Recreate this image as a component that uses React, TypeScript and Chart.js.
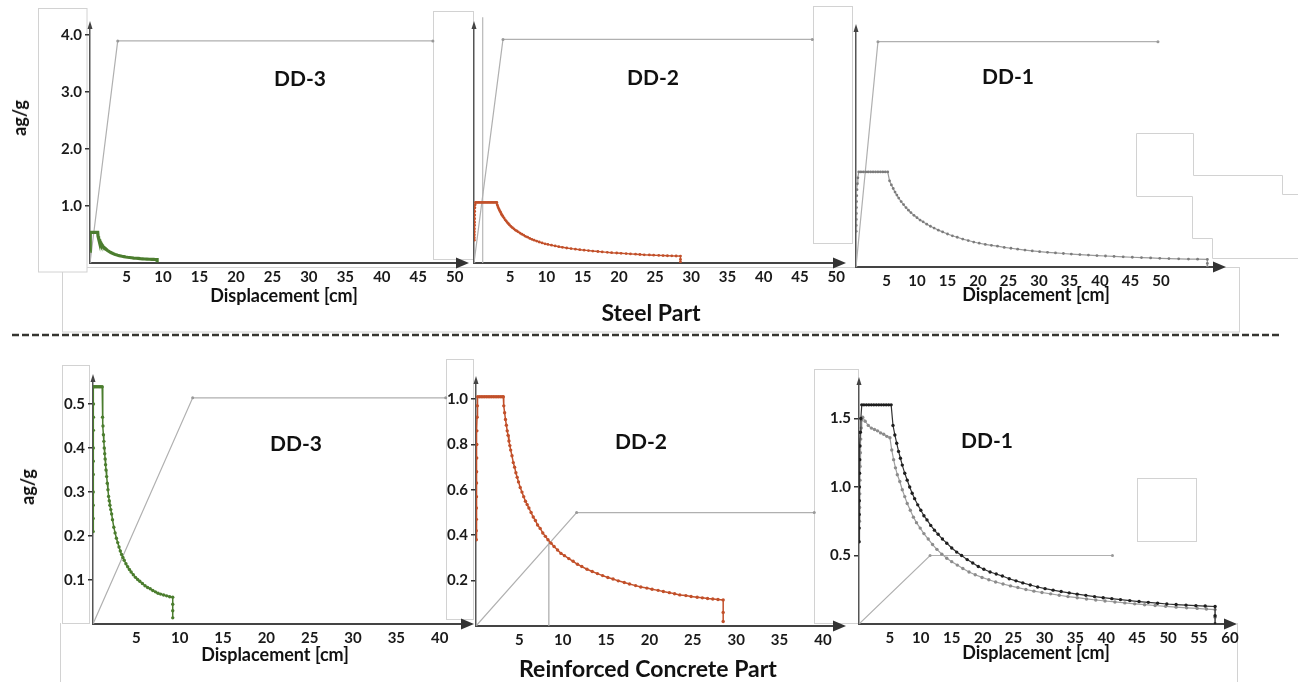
import React, { useEffect, useRef } from "react";
import { Chart, registerables } from "chart.js";
Chart.register(...registerables);

// ---------------- DATA ----------------
// DD-3 demand spectrum (Sd [cm], Sa [g])
const DD3_X = [0.02, 0.02, 0.02, 0.03, 0.03, 0.03, 0.04, 0.04, 0.05, 0.05, 0.06,
  0.15, 0.3, 0.45, 0.6, 0.75, 0.9, 1.06,
  1.1, 1.15, 1.2, 1.25, 1.3, 1.35, 1.4, 1.45, 1.5, 1.575,
  1.65, 1.725, 1.8, 1.875, 1.95, 2.05, 2.15, 2.25, 2.4, 2.55,
  2.7, 2.85, 3.0, 3.15, 3.3, 3.45, 3.6, 3.8, 4.0, 4.2,
  4.4, 4.65, 4.9, 5.15, 5.4, 5.7, 6.0, 6.3, 6.6, 6.9,
  7.2, 7.5, 7.8, 8.15, 8.5, 8.85, 9.2, 9.2, 9.2, 9.2];
const DD3_Y = [0.21, 0.24, 0.27, 0.30, 0.34, 0.37, 0.40, 0.44, 0.47, 0.50, 0.539,
  0.539, 0.539, 0.539, 0.539, 0.539, 0.539, 0.539,
  0.47, 0.45, 0.43, 0.415, 0.40, 0.387, 0.375, 0.362, 0.35, 0.335,
  0.32, 0.305, 0.29, 0.28, 0.27, 0.26, 0.25, 0.237, 0.22, 0.207,
  0.195, 0.185, 0.175, 0.166, 0.158, 0.151, 0.145, 0.137, 0.13, 0.124,
  0.118, 0.112, 0.106, 0.101, 0.097, 0.092, 0.087, 0.083, 0.08, 0.076,
  0.073, 0.07, 0.068, 0.066, 0.064, 0.062, 0.061, 0.045, 0.03, 0.014];

// DD-2 demand spectrum
const DD2_X = [0.03, 0.03, 0.04, 0.04, 0.05, 0.06, 0.07, 0.08, 0.09, 0.1, 0.12, 0.15, 0.2,
  0.4, 0.6, 0.8, 1.0, 1.2, 1.4, 1.6, 1.8, 2.0, 2.2, 2.4, 2.6, 2.8, 3.0, 3.15,
  3.2, 3.3, 3.4, 3.5, 3.6, 3.7, 3.8, 3.9, 4.0, 4.15,
  4.3, 4.45, 4.6, 4.75, 4.9, 5.1, 5.3, 5.5, 5.7, 5.9,
  6.1, 6.35, 6.6, 6.85, 7.1, 7.4, 7.7, 8.0, 8.3, 8.65,
  9.0, 9.4, 9.8, 10.2, 10.7, 11.2, 11.7, 12.2, 12.8, 13.4,
  14.0, 14.6, 15.2, 15.8, 16.4, 17.1, 17.7, 18.4, 19.0, 19.7,
  20.3, 21, 21.6, 22.3, 22.9, 23.5, 24.2, 24.8, 25.5, 26.1,
  26.7, 27.3, 27.9, 28.5, 28.5, 28.5];
const DD2_Y = [0.38, 0.42, 0.47, 0.52, 0.57, 0.63, 0.68, 0.74, 0.80, 0.86, 0.92, 0.97, 1.01,
  1.01, 1.01, 1.01, 1.01, 1.01, 1.01, 1.01, 1.01, 1.01, 1.01, 1.01, 1.01, 1.01, 1.01, 1.01,
  0.97, 0.94, 0.91, 0.885, 0.86, 0.84, 0.815, 0.795, 0.775, 0.75,
  0.72, 0.70, 0.675, 0.655, 0.635, 0.61, 0.59, 0.57, 0.55, 0.535,
  0.52, 0.50, 0.48, 0.465, 0.445, 0.43, 0.41, 0.395, 0.38, 0.365,
  0.35, 0.335, 0.32, 0.31, 0.297, 0.285, 0.272, 0.262, 0.25, 0.24,
  0.231, 0.222, 0.214, 0.207, 0.199, 0.192, 0.185, 0.178, 0.172, 0.167,
  0.162, 0.157, 0.152, 0.147, 0.142, 0.137, 0.134, 0.13, 0.127, 0.124,
  0.121, 0.119, 0.117, 0.115, 0.06, 0.02];

// DD-1 demand spectrum (black)
const DD1_X = [0.02, 0.03, 0.04, 0.05, 0.07, 0.09, 0.12, 0.16, 0.22, 0.3, 0.45,
  0.8, 1.2, 1.6, 2.0, 2.4, 2.8, 3.2, 3.6, 4.0, 4.4, 4.8, 5.2,
  5.5, 5.8, 6.1, 6.4, 6.7, 7.0, 7.4, 7.8, 8.2, 8.6,
  9.0, 9.5, 10.0, 10.5, 11.0, 11.6, 12.2, 12.8, 13.5, 14.2,
  15.0, 15.8, 16.6, 17.5, 18.4, 19.3, 20.2, 21.2, 22.2, 23.2,
  24.3, 25.4, 26.5, 27.7, 28.9, 30.1, 31.4, 32.7, 34.0, 35.3,
  36.7, 38.1, 39.5, 40.9, 42.3, 43.8, 45.3, 46.8, 48.3, 49.8,
  51.3, 52.9, 54.5, 56.0, 57.6, 57.6, 57.6];
const DD1_Y = [0.6, 0.7, 0.8, 0.9, 1.0, 1.1, 1.2, 1.3, 1.4, 1.5, 1.6,
  1.6, 1.6, 1.6, 1.6, 1.6, 1.6, 1.6, 1.6, 1.6, 1.6, 1.6, 1.6,
  1.45, 1.38, 1.32, 1.26, 1.21, 1.16, 1.10, 1.05, 1.0, 0.955,
  0.915, 0.87, 0.83, 0.79, 0.76, 0.72, 0.685, 0.655, 0.62, 0.59,
  0.555, 0.525, 0.50, 0.47, 0.445, 0.42, 0.40, 0.38, 0.365, 0.35,
  0.33, 0.315, 0.30, 0.285, 0.27, 0.258, 0.247, 0.237, 0.227, 0.218,
  0.209, 0.2, 0.192, 0.185, 0.178, 0.171, 0.164, 0.158, 0.152, 0.146,
  0.142, 0.138, 0.134, 0.131, 0.128, 0.06, 0.0];

// DD-1 demand spectrum, reinforced concrete (grey)
const DD1_RC_X = [0.08, 0.1, 0.12, 0.15, 0.18, 0.22, 0.28, 0.35, 0.45,
  0.6, 1.0, 1.5, 2.0, 2.5, 3.0, 3.5, 4.0, 4.5, 5.0,
  5.3, 5.6, 5.9, 6.2, 6.6, 7.0, 7.4, 7.8, 8.3, 8.8,
  9.3, 9.9, 10.5, 11.2, 11.9, 12.6, 13.4, 14.2, 15.0, 15.9,
  16.8, 17.8, 18.8, 19.9, 21.0, 22.1, 23.3, 24.5, 25.7, 27.0,
  28.3, 29.6, 31.0, 32.4, 33.8, 35.3, 36.8, 38.3, 39.8, 41.4,
  43.0, 44.6, 46.2, 47.9, 49.6, 51.3, 53.0, 54.7, 56.2, 57.6,
  57.6, 57.6];
const DD1_RC_Y = [0.75, 0.85, 0.95, 1.05, 1.15, 1.25, 1.35, 1.43, 1.49,
  1.51, 1.48, 1.45, 1.43, 1.42, 1.41, 1.395, 1.385, 1.37, 1.36,
  1.27, 1.2, 1.14, 1.09, 1.04, 0.98, 0.93, 0.88, 0.83, 0.78,
  0.74, 0.70, 0.66, 0.62, 0.58, 0.545, 0.51, 0.48, 0.455, 0.43,
  0.405, 0.38, 0.36, 0.34, 0.323, 0.307, 0.292, 0.278, 0.266, 0.252,
  0.24, 0.23, 0.22, 0.21, 0.2, 0.192, 0.183, 0.175, 0.168, 0.161,
  0.154, 0.147, 0.141, 0.135, 0.129, 0.123, 0.118, 0.114, 0.109, 0.105,
  0.05, 0.0];

// Capacity curves
const CAP_STEEL_DD3_X = [0, 3.8, 47];
const CAP_STEEL_DD3_Y = [0, 3.9, 3.9];
const CAP_STEEL_DD2_X = [0, 4.0, 46.7];
const CAP_STEEL_DD2_Y = [0, 3.73, 3.73];
const GUIDE_STEEL_DD2_X = [1.2, 1.2];
const GUIDE_STEEL_DD2_Y = [0, 4.1];
const CAP_STEEL_DD1_X = [0, 3.6, 49.5];
const CAP_STEEL_DD1_Y = [0, 3.79, 3.79];
const CAP_RC_DD3_X = [0, 11.5, 40.7];
const CAP_RC_DD3_Y = [0, 0.514, 0.514];
const CAP_RC_DD2_X = [0, 11.6, 39.0];
const CAP_RC_DD2_Y = [0, 0.5, 0.5];
const PP_RC_DD2_X = [8.4, 8.4];
const PP_RC_DD2_Y = [0, 0.37];
const CAP_RC_DD1_X = [0, 11.5, 41];
const CAP_RC_DD1_Y = [0, 0.5, 0.5];

const X_TICK_STEP = 5;

// ---------------- STYLE ----------------
const GREEN = "#4b7d2e";
const RED = "#c2502a";
const BLACK = "#1e1e1e";
const GREY = "#8c8c8c";
const CAP = "#b0b0b0";
const FONT = "Lato, 'Open Sans', sans-serif";

Chart.defaults.font.family = FONT;

type Series = {
  x: number[]; y: number[]; line: string; dot: string; lw: number; r: number; noClip?: boolean;
};
type PanelCfg = {
  left: number; top: number; w: number; h: number;
  x0: number; y0: number; xR: number; yT: number;
  xMax: number; yMax: number; yStep: number; yLabelMax: number; xLabelMax: number;
  showY: boolean; series: Series[];
};

const pts = (xs: number[], ys: number[]) => {
  const n = Math.min(xs.length, ys.length);
  const out: { x: number; y: number }[] = [];
  for (let i = 0; i < n; i++) out.push({ x: xs[i], y: ys[i] });
  return out;
};

const capSeries = (x: number[], y: number[]): Series => ({ x, y, line: CAP, dot: "#999", lw: 1.2, r: 1.5 });

const PANELS: PanelCfg[] = [
  {
    left: 0, top: 0, w: 478, h: 300, x0: 90, y0: 263, xR: 465, yT: 25,
    xMax: 51.4, yMax: 4.18, yStep: 1, yLabelMax: 4, xLabelMax: 50, showY: true,
    series: [
      { x: DD3_X, y: DD3_Y, line: GREEN, dot: GREEN, lw: 3.2, r: 0 },
      capSeries(CAP_STEEL_DD3_X, CAP_STEEL_DD3_Y),
    ],
  },
  {
    left: 440, top: 0, w: 412, h: 300, x0: 474, y0: 263, xR: 842, yT: 25,
    xMax: 50.8, yMax: 3.97, yStep: 1, yLabelMax: 4, xLabelMax: 50, showY: false,
    series: [
      { x: DD2_X, y: DD2_Y, line: RED, dot: RED, lw: 1.4, r: 1.4 },
      capSeries(CAP_STEEL_DD2_X, CAP_STEEL_DD2_Y),
      { x: GUIDE_STEEL_DD2_X, y: GUIDE_STEEL_DD2_Y, line: "#b8b8b8", dot: "#b8b8b8", lw: 1.2, r: 0, noClip: true },
    ],
  },
  {
    left: 820, top: 0, w: 420, h: 300, x0: 856, y0: 267, xR: 1222, yT: 28,
    xMax: 60, yMax: 4.02, yStep: 1, yLabelMax: 4, xLabelMax: 50, showY: false,
    series: [
      { x: DD1_X, y: DD1_Y, line: "#9a9a9a", dot: "#7c7c7c", lw: 1.2, r: 1.4 },
      capSeries(CAP_STEEL_DD1_X, CAP_STEEL_DD1_Y),
    ],
  },
  {
    left: 0, top: 345, w: 482, h: 320, x0: 93, y0: 624, xR: 470, yT: 378,
    xMax: 43.5, yMax: 0.559, yStep: 0.1, yLabelMax: 0.5, xLabelMax: 40, showY: true,
    series: [
      { x: DD3_X, y: DD3_Y, line: GREEN, dot: GREEN, lw: 1.5, r: 1.7 },
      capSeries(CAP_RC_DD3_X, CAP_RC_DD3_Y),
    ],
  },
  {
    left: 440, top: 345, w: 412, h: 320, x0: 476, y0: 626, xR: 842, yT: 380,
    xMax: 42.2, yMax: 1.084, yStep: 0.2, yLabelMax: 1.0, xLabelMax: 40, showY: true,
    series: [
      { x: DD2_X, y: DD2_Y, line: RED, dot: RED, lw: 1.5, r: 1.7 },
      capSeries(CAP_RC_DD2_X, CAP_RC_DD2_Y),
      { x: PP_RC_DD2_X, y: PP_RC_DD2_Y, line: "#a8a8a8", dot: "#a8a8a8", lw: 1.2, r: 0 },
    ],
  },
  {
    left: 800, top: 345, w: 455, h: 320, x0: 859, y0: 624, xR: 1233, yT: 381,
    xMax: 60.5, yMax: 1.774, yStep: 0.5, yLabelMax: 1.5, xLabelMax: 60, showY: true,
    series: [
      { x: DD1_X, y: DD1_Y, line: "#333", dot: BLACK, lw: 1.2, r: 1.7 },
      { x: DD1_RC_X, y: DD1_RC_Y, line: "#a0a0a0", dot: GREY, lw: 1.2, r: 1.7 },
      capSeries(CAP_RC_DD1_X, CAP_RC_DD1_Y),
    ],
  },
];

const arrowPlugin = {
  id: "axisArrows",
  afterDraw(chart: any) {
    const { ctx, chartArea } = chart;
    const { left, right, top, bottom } = chartArea;
    ctx.save();
    ctx.fillStyle = "#333";
    ctx.beginPath();
    ctx.moveTo(right + 4, bottom);
    ctx.lineTo(right - 9, bottom - 5.5);
    ctx.lineTo(right - 9, bottom + 5.5);
    ctx.closePath();
    ctx.fill();
    ctx.fillStyle = "#444";
    ctx.beginPath();
    ctx.moveTo(left, top - 4);
    ctx.lineTo(left - 2.5, top + 4);
    ctx.lineTo(left + 2.5, top + 4);
    ctx.closePath();
    ctx.fill();
    ctx.restore();
  },
};

function Panel({ cfg }: { cfg: PanelCfg }) {
  const ref = useRef<HTMLCanvasElement | null>(null);
  useEffect(() => {
    const c = cfg;
    const Wy = c.x0 - c.left;
    const Hx = c.top + c.h - c.y0;
    const padT = c.yT - c.top;
    const padR = c.left + c.w - c.xR;
    const isY = (v: number) =>
      c.showY && v > 1e-9 && v <= c.yLabelMax + 1e-9 && Math.abs(v / c.yStep - Math.round(v / c.yStep)) < 1e-6;
    const isX = (v: number) =>
      v > 0 && v <= c.xLabelMax + 1e-9 && Math.abs(v / X_TICK_STEP - Math.round(v / X_TICK_STEP)) < 1e-6;
    const datasets = c.series.map((s) => ({
      data: pts(s.x, s.y),
      showLine: true,
      borderColor: s.line,
      backgroundColor: s.dot,
      pointBackgroundColor: s.dot,
      pointBorderWidth: 0,
      borderWidth: s.lw,
      pointRadius: s.r,
      pointHoverRadius: s.r,
      tension: 0,
      ...(s.noClip ? { clip: false } : {}),
    }));
    const chart = new Chart(ref.current as HTMLCanvasElement, {
      type: "scatter",
      data: { datasets },
      options: {
        animation: false,
        responsive: false,
        events: [],
        layout: { padding: { left: 0, top: padT, right: padR, bottom: 0 }, autoPadding: false },
        plugins: { legend: { display: false }, tooltip: { enabled: false }, title: { display: false } },
        scales: {
          x: {
            type: "linear",
            min: 0,
            max: c.xMax,
            afterFit: (s: any) => { s.height = Hx; },
            border: { display: true, color: "#444", width: 2 },
            grid: { display: true, drawOnChartArea: false, drawTicks: false },
            ticks: {
              stepSize: X_TICK_STEP,
              includeBounds: false,
              autoSkip: false,
              maxRotation: 0,
              padding: 5,
              color: "#1a1a1a",
              font: { size: 15, weight: "bold" },
              callback: (v: any) => (isX(Number(v)) ? String(Math.round(Number(v))) : ""),
            },
          },
          y: {
            type: "linear",
            min: 0,
            max: c.yMax,
            afterFit: (s: any) => { s.width = Wy; },
            border: { display: true, color: "#555", width: 1.5 },
            grid: {
              display: true,
              drawOnChartArea: false,
              drawTicks: c.showY,
              tickLength: 5,
              color: (ctx: any) => (ctx.tick && isY(ctx.tick.value) ? "#333" : "rgba(0,0,0,0)"),
              tickColor: (ctx: any) => (ctx.tick && isY(ctx.tick.value) ? "#333" : "rgba(0,0,0,0)"),
              lineWidth: 1.5,
            },
            ticks: {
              display: c.showY,
              stepSize: c.yStep,
              includeBounds: false,
              autoSkip: false,
              padding: 3,
              color: "#1a1a1a",
              font: { size: 15, weight: "bold" },
              callback: (v: any) => (isY(Number(v)) ? Number(v).toFixed(1) : ""),
            },
          },
        },
      } as any,
      plugins: [arrowPlugin],
    });
    return () => chart.destroy();
  }, [cfg]);
  return (
    <canvas
      ref={ref}
      width={cfg.w}
      height={cfg.h}
      style={{ position: "absolute", left: cfg.left, top: cfg.top, width: cfg.w, height: cfg.h, zIndex: 2 }}
    />
  );
}

type Label = { text: string; x: number; y: number; size: number; rotate?: boolean };
const LABELS: Label[] = [
  { text: "ag/g", x: 19, y: 118, size: 18, rotate: true },
  { text: "DD-3", x: 300, y: 77, size: 21 },
  { text: "Displacement [cm]", x: 284, y: 295, size: 18 },
  { text: "DD-2", x: 653, y: 76, size: 21 },
  { text: "Steel Part", x: 651, y: 312, size: 23 },
  { text: "DD-1", x: 1008, y: 75, size: 21 },
  { text: "Displacement [cm]", x: 1036, y: 294, size: 18 },
  { text: "ag/g", x: 27, y: 487, size: 18, rotate: true },
  { text: "DD-3", x: 296, y: 442, size: 21 },
  { text: "Displacement [cm]", x: 275, y: 654, size: 18 },
  { text: "DD-2", x: 641, y: 440, size: 21 },
  { text: "Reinforced Concrete Part", x: 648, y: 668, size: 23 },
  { text: "DD-1", x: 987, y: 439, size: 21 },
  { text: "Displacement [cm]", x: 1036, y: 652, size: 18 },
];

function Frames() {
  const st = { fill: "#fff", stroke: "#d2d2d2", strokeWidth: 1 };
  const ln = { fill: "none", stroke: "#d2d2d2", strokeWidth: 1 };
  return (
    <svg width={1298} height={682} style={{ position: "absolute", left: 0, top: 0, zIndex: 1 }}>
      <rect x={62.5} y={267.5} width={1177} height={64.5} {...st} />
      <rect x={38.5} y={8.5} width={48.5} height={263.5} {...st} />
      <rect x={433.5} y={11.5} width={40} height={248} {...st} />
      <rect x={813.5} y={6.5} width={39} height={237} {...st} />
      <polyline points="1136.5,196 1136.5,133.5 1193.5,133.5 1193.5,175.5 1282.5,175.5 1282.5,194.5 1298,194.5" {...ln} />
      <polyline points="1136.5,196.5 1192.5,196.5 1192.5,238.5 1212.5,238.5 1212.5,258.5 1298,258.5" {...ln} />
      <rect x={62.5} y={365.5} width={27} height={258} {...st} />
      <line x1={60.5} y1={623} x2={60.5} y2={682} {...ln} />
      <rect x={446.5} y={359.5} width={27} height={260} {...st} />
      <rect x={814.5} y={369.5} width={44} height={254} {...st} />
      <rect x={1137.5} y={478.5} width={59} height={63} {...st} />
      <line x1={1237.5} y1={623} x2={1237.5} y2={682} {...ln} />
      <line x1={12} y1={335} x2={1282} y2={335} stroke="#353530" strokeWidth={2.5} strokeDasharray="7 3" />
    </svg>
  );
}

export default function App() {
  return (
    <div
      style={{
        position: "absolute", left: 0, top: 0, width: 1298, height: 682,
        background: "#fff", overflow: "hidden", fontFamily: FONT,
      }}
    >
      <Frames />
      {PANELS.map((p, i) => (
        <Panel key={i} cfg={p} />
      ))}
      {LABELS.map((l, i) => (
        <div
          key={i}
          style={{
            position: "absolute", left: l.x, top: l.y, zIndex: 3,
            transform: `translate(-50%, -50%)${l.rotate ? " rotate(-90deg)" : ""}`,
            fontSize: l.size, fontWeight: 700, color: "#111", whiteSpace: "nowrap", lineHeight: 1,
          }}
        >
          {l.text}
        </div>
      ))}
    </div>
  );
}
